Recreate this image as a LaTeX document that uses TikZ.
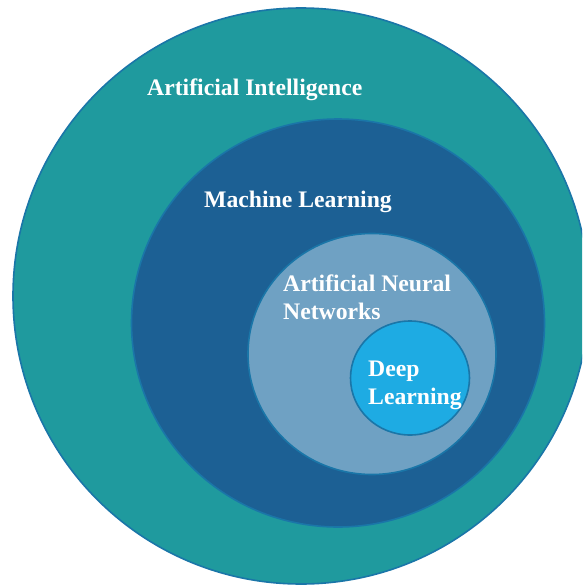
\documentclass[tikz,border=0pt]{standalone}
\usepackage{fontspec}
\usepackage{tikz}
\usepackage{xcolor}
\usetikzlibrary{shapes.geometric}
\setmainfont{Liberation Serif}

\definecolor{aiteal}{RGB}{31,154,158}
\definecolor{mlblue}{RGB}{28,96,148}
\definecolor{annblue}{RGB}{111,161,195}
\definecolor{dlblue}{RGB}{30,171,227}
\definecolor{rimblue}{RGB}{26,118,168}

\begin{document}
\begin{tikzpicture}[x=1pt, y=-1pt,
    field/.style={ellipse, draw=rimblue, line width=1.6pt, inner sep=0pt},
    caption/.style={text=white, font=\bfseries\fontsize{23.7}{28}\selectfont,
        align=left, inner sep=0pt, anchor=base west}]
    \useasboundingbox (0,0) rectangle (582,586);
    \fill[white] (0,0) rectangle (582,586);
    \clip (0,0) rectangle (582,586);

    \node[field, fill=aiteal, minimum width=576pt, minimum height=576pt] (ai) at (301,296) {};
    \node[field, fill=mlblue, minimum width=413pt, minimum height=408pt] (ml) at (338,323) {};
    \node[field, fill=annblue, minimum width=248pt, minimum height=241pt] (ann) at (372,354) {};
    \node[field, fill=dlblue, minimum width=119pt, minimum height=114pt] (dl) at (410,378) {};

    \node[caption] (aitext) at (147,95) {Artificial Intelligence};
    \node[caption] (mltext) at (204,207) {Machine Learning};
    \node[caption] (anntext) at (283,319) {Artificial Neural\\Networks};
    \node[caption] (dltext) at (368,404) {Deep\\Learning};
\end{tikzpicture}
\end{document}
